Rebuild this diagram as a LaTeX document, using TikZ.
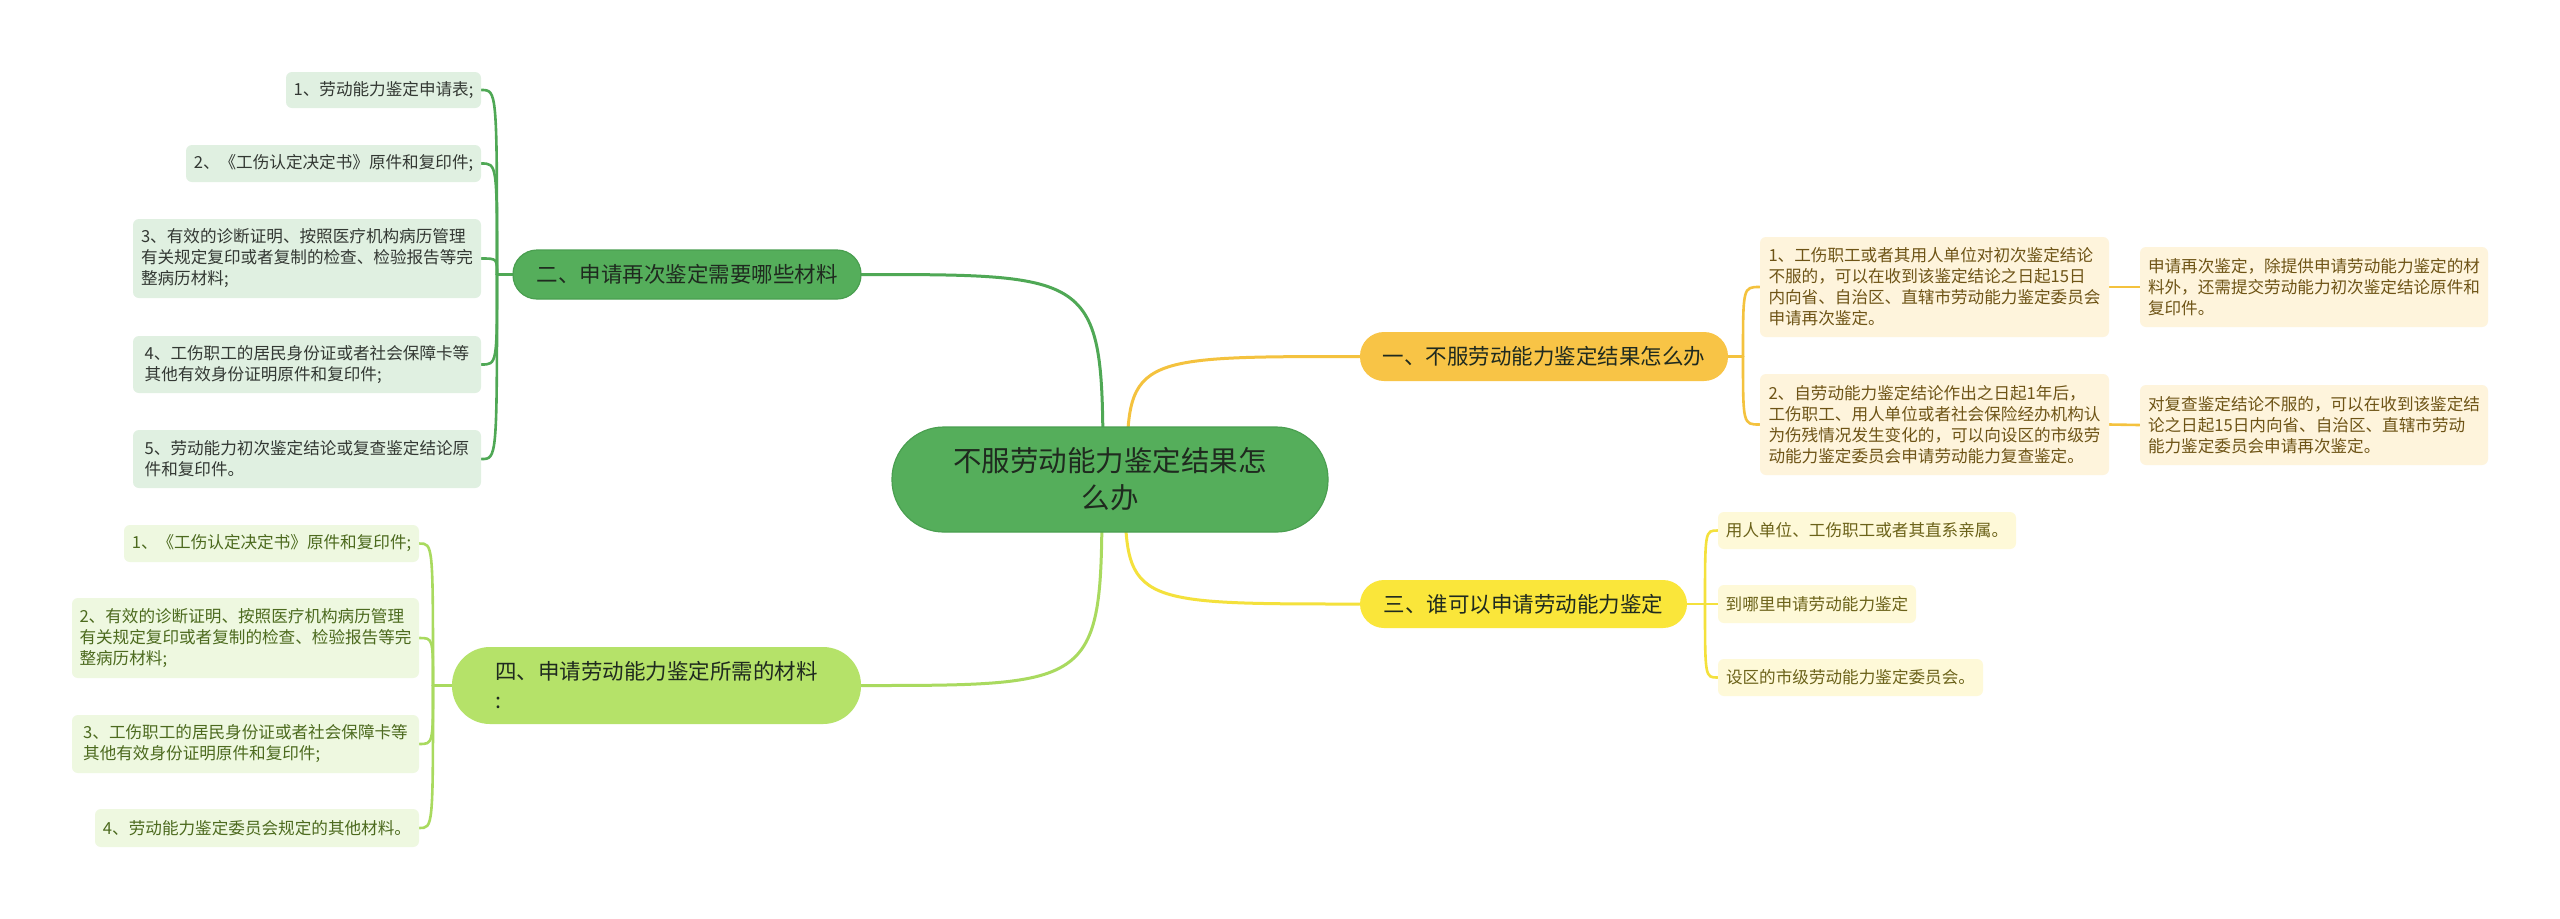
\documentclass[tikz,border=0pt]{standalone}
\usepackage{fontspec}
\newfontfamily\cjk{Noto Sans CJK SC}
\usetikzlibrary{backgrounds}
\definecolor{cfill}{HTML}{55AE5B}
\definecolor{cdraw}{HTML}{4A9F50}
\definecolor{gline}{HTML}{4FA855}
\definecolor{lgline}{HTML}{A9DA5F}
\definecolor{oline}{HTML}{F4C23E}
\definecolor{yline}{HTML}{F4E13C}
\definecolor{bAfill}{HTML}{F8C446}
\definecolor{bCfill}{HTML}{FAE63A}
\definecolor{bDfill}{HTML}{B5E269}
\definecolor{lGfill}{HTML}{E0F0E1}
\definecolor{lDfill}{HTML}{EEF8E0}
\definecolor{lAfill}{HTML}{FEF4DC}
\definecolor{lCfill}{HTML}{FEF9D8}
\definecolor{tG}{HTML}{333833}
\definecolor{tD}{HTML}{4C6A1E}
\definecolor{tA}{HTML}{6E5416}
\definecolor{tC}{HTML}{6B6219}
\definecolor{tdark}{HTML}{1F2A1F}
\begin{document}
\begin{tikzpicture}[x=0.5pt,y=-0.5pt,
  leaf/.style={rounded corners=3pt, inner sep=0pt, align=left, font={\cjk\fontsize{8.3pt}{10.5pt}\selectfont}},
  leafG/.style={leaf, fill=lGfill, text=tG},
  leafD/.style={leaf, fill=lDfill, text=tD},
  leafA/.style={leaf, fill=lAfill, text=tA},
  leafC/.style={leaf, fill=lCfill, text=tC},
  branch/.style={inner sep=0pt, align=left, text=tdark, font={\cjk\fontsize{10.75pt}{14.5pt}\selectfont}},
  conn/.style={line width=1.3pt, line cap=round},
  mainconn/.style={line width=1.5pt, line cap=round}
]
\begin{pgfonlayer}{background}
\fill[white] (0,0) rectangle (2560,918);
\end{pgfonlayer}
\useasboundingbox (0,0) rectangle (2560,918);

% central node
\node[inner sep=0pt, align=center, fill=cfill, draw=cdraw, line width=0.6pt, rounded corners=26pt,
  minimum width=218pt, minimum height=52.5pt, text=tdark,
  font={\cjk\fontsize{14.25pt}{18.5pt}\selectfont}] (c) at (1110,479.5) {不服劳动能力鉴定结果怎\\么办};

% branches
\node[branch, fill=cfill, draw=cdraw, line width=0.6pt, rounded corners=12pt, minimum width=174pt, minimum height=24.5pt] (b2) at (687,274.5) {二、申请再次鉴定需要哪些材料};
\node[branch, fill=bDfill, rounded corners=19pt, minimum width=204.5pt, minimum height=38.5pt] (b4) at (656.5,685.5) {四、申请劳动能力鉴定所需的材料\\:};
\node[branch, fill=bAfill, rounded corners=12pt, minimum width=184pt, minimum height=24.5pt] (b1) at (1544,356.5) {一、不服劳动能力鉴定结果怎么办};
\node[branch, fill=bCfill, rounded corners=12pt, minimum width=163.5pt, minimum height=24pt] (b3) at (1523.5,604) {三、谁可以申请劳动能力鉴定};

% leaves of branch 2
\node[leafG, minimum width=97.5pt, minimum height=18pt] (l1) at (383.5,90) {1、劳动能力鉴定申请表;};
\node[leafG, minimum width=147.5pt, minimum height=18.5pt] (l2) at (333.5,163.5) {2、《工伤认定决定书》原件和复印件;};
\node[leafG, minimum width=174pt, minimum height=39.5pt] (l3) at (307,258.5) {3、有效的诊断证明、按照医疗机构病历管理\\有关规定复印或者复制的检查、检验报告等完\\整病历材料;};
\node[leafG, minimum width=174pt, minimum height=28.5pt] (l4) at (307,364.5) {4、工伤职工的居民身份证或者社会保障卡等\\其他有效身份证明原件和复印件;};
\node[leafG, minimum width=174pt, minimum height=29pt] (l5) at (307,459) {5、劳动能力初次鉴定结论或复查鉴定结论原\\件和复印件。};

% leaves of branch 4
\node[leafD, minimum width=147.5pt, minimum height=18.5pt] (m1) at (271.5,543.5) {1、《工伤认定决定书》原件和复印件;};
\node[leafD, minimum width=173.5pt, minimum height=40pt] (m2) at (245.5,638) {2、有效的诊断证明、按照医疗机构病历管理\\有关规定复印或者复制的检查、检验报告等完\\整病历材料;};
\node[leafD, minimum width=173.5pt, minimum height=29pt] (m3) at (245.5,744) {3、工伤职工的居民身份证或者社会保障卡等\\其他有效身份证明原件和复印件;};
\node[leafD, minimum width=162pt, minimum height=19pt] (m4) at (257,828) {4、劳动能力鉴定委员会规定的其他材料。};

% leaves of branch 1
\node[leafA, minimum width=174.5pt, minimum height=50pt] (r1) at (1934.5,287) {1、工伤职工或者其用人单位对初次鉴定结论\\不服的，可以在收到该鉴定结论之日起15日\\内向省、自治区、直辖市劳动能力鉴定委员会\\申请再次鉴定。};
\node[leafA, minimum width=174.5pt, minimum height=50.5pt] (r2) at (1934.5,424.5) {2、自劳动能力鉴定结论作出之日起1年后，\\工伤职工、用人单位或者社会保险经办机构认\\为伤残情况发生变化的，可以向设区的市级劳\\动能力鉴定委员会申请劳动能力复查鉴定。};
\node[leafA, minimum width=174pt, minimum height=40pt] (r1a) at (2314,287) {申请再次鉴定，除提供申请劳动能力鉴定的材\\料外，还需提交劳动能力初次鉴定结论原件和\\复印件。};
\node[leafA, minimum width=174pt, minimum height=40pt] (r2a) at (2314,425) {对复查鉴定结论不服的，可以在收到该鉴定结\\论之日起15日内向省、自治区、直辖市劳动\\能力鉴定委员会申请再次鉴定。};

% leaves of branch 3
\node[leafC, minimum width=149pt, minimum height=18.5pt] (t1) at (1867,530.5) {用人单位、工伤职工或者其直系亲属。};
\node[leafC, minimum width=99pt, minimum height=19pt] (t2) at (1817,604) {到哪里申请劳动能力鉴定};
\node[leafC, minimum width=132.5pt, minimum height=18.5pt] (t3) at (1850.5,677.5) {设区的市级劳动能力鉴定委员会。};

% junction coordinates
\coordinate (c2) at (1103,480);
\coordinate (c1) at (1127,480);
\coordinate (c3) at (1125,480);
\coordinate (c4) at (1102,480);
\coordinate (j2) at (497,274.5);
\coordinate (j4) at (433,685.5);
\coordinate (j1) at (1743,356.5);
\coordinate (j3) at (1705,604);

\begin{pgfonlayer}{background}
% center to branches
\draw[mainconn, gline] (c2) .. controls (c2 |- b2.east) .. (b2.east);
\draw[mainconn, oline] (c1) .. controls (c1 |- b1.west) .. (b1.west);
\draw[mainconn, yline] (c3) .. controls (c3 |- b3.west) .. (b3.west);
\draw[mainconn, lgline] (c4) .. controls (c4 |- b4.east) .. (b4.east);
% branch 2
\draw[conn, gline] (b2.west) -- (j2);
\foreach \n in {l1,l2,l3,l4,l5}
  \draw[conn, gline] (j2) .. controls (j2 |- \n.east) .. (\n.east);
% branch 4
\draw[conn, lgline] (b4.west) -- (j4);
\foreach \n in {m1,m2,m3,m4}
  \draw[conn, lgline] (j4) .. controls (j4 |- \n.east) .. (\n.east);
% branch 1
\draw[conn, oline] (b1.east) -- (j1);
\foreach \n in {r1,r2}
  \draw[conn, oline] (j1) .. controls (j1 |- \n.west) .. (\n.west);
\draw[conn, oline] (r1.east) -- (r1a.west);
\draw[conn, oline] (r2.east) -- (r2a.west);
% branch 3
\draw[conn, yline] (b3.east) -- (j3);
\foreach \n in {t1,t2,t3}
  \draw[conn, yline] (j3) .. controls (j3 |- \n.west) .. (\n.west);
\end{pgfonlayer}
\end{tikzpicture}
\end{document}
